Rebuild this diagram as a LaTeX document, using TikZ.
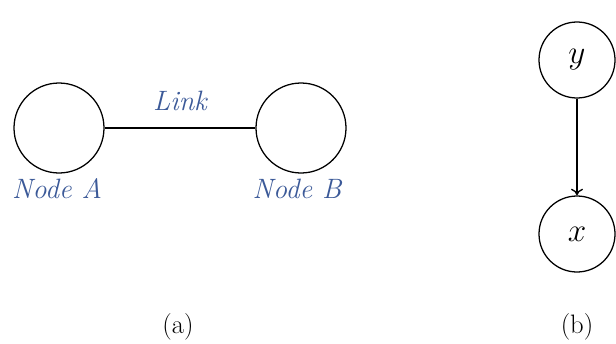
\documentclass[tikz,border=0pt]{standalone}
\usetikzlibrary{arrows.meta}
\definecolor{lblue}{RGB}{59,89,152}
\begin{document}
\begin{tikzpicture}[x=0.75pt,y=-0.75pt,
  bignode/.style={draw,circle,line width=0.95pt,minimum size=67.5pt,inner sep=0pt},
  smallnode/.style={draw,circle,line width=0.95pt,minimum size=57pt,inner sep=0pt,font=\fontsize{29}{33}\selectfont},
  lbl/.style={text=lblue,font=\fontsize{21}{24}\selectfont\itshape,inner sep=0pt,anchor=base},
  captext/.style={font=\fontsize{20}{23}\selectfont,inner sep=0pt,anchor=base}]
\useasboundingbox (0,0) rectangle (616,343);
\node[bignode] (A) at (59,128) {};
\node[bignode] (B) at (301,128) {};
\draw[line width=1.5pt] (A) -- (B);
\node[lbl] (link) at (180,110) {Link};
\node[lbl] (la) at (57,198) {Node A};
\node[lbl] (lb) at (297,198) {Node B};
\node[smallnode] (y) at (577,60) {$y$};
\node[smallnode] (x) at (577,234) {$x$};
\draw[line width=1pt,-{To[length=5pt,width=9pt]}] (y) -- (x);
\node[captext] (ca) at (178,333) {(a)};
\node[captext] (cb) at (577,333) {(b)};
\end{tikzpicture}
\end{document}
